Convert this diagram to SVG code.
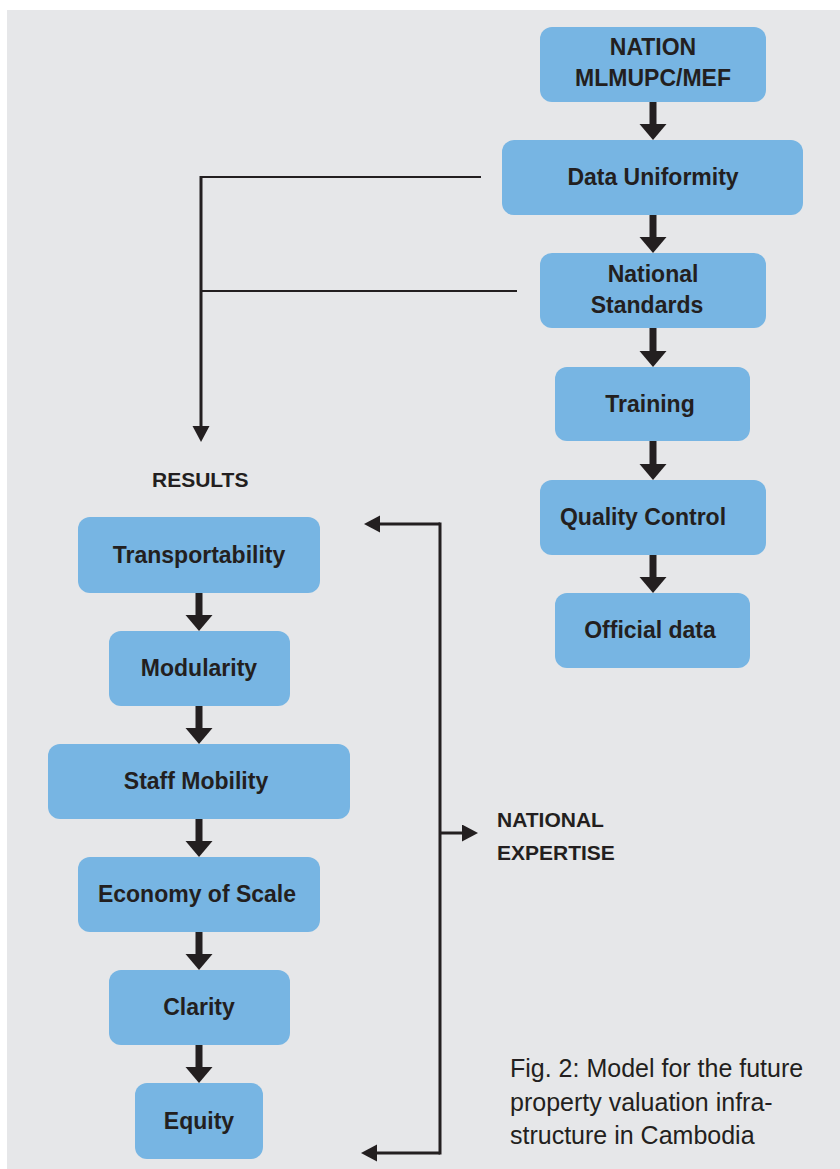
<svg xmlns="http://www.w3.org/2000/svg" width="840" height="1169" viewBox="0 0 840 1169">
<style>
.box{fill:#77b5e3;}
.lbl{font-family:"Liberation Sans",Arial,sans-serif;font-weight:bold;font-size:23px;fill:#231f20;text-anchor:middle;}
.hdr{font-family:"Liberation Sans",Arial,sans-serif;font-weight:bold;font-size:21px;fill:#231f20;}
.cap{font-family:"Liberation Sans",Arial,sans-serif;font-size:25px;fill:#231f20;}
.thick{stroke:#231f20;stroke-width:7;fill:none;marker-end:url(#bigHead);}
.thin{stroke:#231f20;stroke-width:3;fill:none;}
.hair{stroke:#231f20;stroke-width:2;fill:none;}
.thinArrow{stroke:#231f20;stroke-width:3;fill:none;marker-end:url(#smallHead);}
</style>
<defs>
<marker id="bigHead" markerUnits="userSpaceOnUse" markerWidth="18" markerHeight="28" refX="2" refY="13.5" orient="auto" viewBox="0 0 18 28">
<path d="M0,0 L16,13.5 L0,27 z" fill="#231f20"/>
</marker>
<marker id="smallHead" markerUnits="userSpaceOnUse" markerWidth="18" markerHeight="18" refX="2" refY="8.5" orient="auto" viewBox="0 0 18 18">
<path d="M0,0 L16,8.5 L0,17 z" fill="#231f20"/>
</marker>
</defs>
<rect x="7" y="10" width="833" height="1159" fill="#e6e7e9"/>

<g id="connectors">
<line class="thick" x1="653" y1="102" x2="653" y2="126"/>
<line class="thick" x1="653" y1="215" x2="653" y2="239"/>
<line class="thick" x1="653" y1="328" x2="653" y2="353"/>
<line class="thick" x1="653" y1="441" x2="653" y2="466"/>
<line class="thick" x1="653" y1="555" x2="653" y2="579"/>
<line class="thick" x1="199" y1="593" x2="199" y2="617"/>
<line class="thick" x1="199" y1="706" x2="199" y2="730"/>
<line class="thick" x1="199" y1="819" x2="199" y2="843"/>
<line class="thick" x1="199" y1="932" x2="199" y2="956"/>
<line class="thick" x1="199" y1="1045" x2="199" y2="1069"/>
<line class="hair" x1="200" y1="177" x2="481" y2="177"/>
<line class="hair" x1="200" y1="291" x2="517" y2="291"/>
<line class="thinArrow" x1="201" y1="176" x2="201" y2="428"/>
<line class="thin" x1="440" y1="524" x2="440" y2="1153" stroke-linecap="square"/>
<line class="thinArrow" x1="440" y1="524" x2="378" y2="524"/>
<line class="thinArrow" x1="440" y1="1153" x2="375" y2="1153"/>
<line class="thinArrow" x1="440" y1="833" x2="464" y2="833"/>
</g>

<g id="n-nation"><rect class="box" x="540" y="27" width="226" height="75" rx="12"/>
<text class="lbl" x="653" y="55">NATION</text><text class="lbl" x="653" y="86">MLMUPC/MEF</text></g>
<g id="n-data"><rect class="box" x="502" y="140" width="301" height="75" rx="12"/>
<text class="lbl" x="653" y="185">Data Uniformity</text></g>
<g id="n-standards"><rect class="box" x="540" y="253" width="226" height="75" rx="12"/>
<text class="lbl" x="653" y="282">National</text><text class="lbl" x="647" y="313">Standards</text></g>
<g id="n-training"><rect class="box" x="555" y="367" width="195" height="74" rx="12"/>
<text class="lbl" x="650" y="412">Training</text></g>
<g id="n-quality"><rect class="box" x="540" y="480" width="226" height="75" rx="12"/>
<text class="lbl" x="643" y="525">Quality Control</text></g>
<g id="n-official"><rect class="box" x="555" y="593" width="195" height="75" rx="12"/>
<text class="lbl" x="650" y="638">Official data</text></g>

<g id="t-results"><text class="hdr" x="152" y="487">RESULTS</text></g>

<g id="n-transport"><rect class="box" x="78" y="517" width="242" height="76" rx="12"/>
<text class="lbl" x="199" y="563">Transportability</text></g>
<g id="n-modularity"><rect class="box" x="109" y="631" width="181" height="75" rx="12"/>
<text class="lbl" x="199" y="676">Modularity</text></g>
<g id="n-staff"><rect class="box" x="48" y="744" width="302" height="75" rx="12"/>
<text class="lbl" x="196" y="789">Staff Mobility</text></g>
<g id="n-economy"><rect class="box" x="78" y="857" width="242" height="75" rx="12"/>
<text class="lbl" x="197" y="902">Economy of Scale</text></g>
<g id="n-clarity"><rect class="box" x="109" y="970" width="181" height="75" rx="12"/>
<text class="lbl" x="199" y="1015">Clarity</text></g>
<g id="n-equity"><rect class="box" x="135" y="1083" width="128" height="76" rx="12"/>
<text class="lbl" x="199" y="1129">Equity</text></g>

<g id="t-expertise"><text class="hdr" x="497" y="827">NATIONAL</text><text class="hdr" x="497" y="860">EXPERTISE</text></g>

<g id="caption">
<text class="cap" x="510" y="1077">Fig. 2: Model for the future</text>
<text class="cap" x="510" y="1111">property valuation infra-</text>
<text class="cap" x="510" y="1144">structure in Cambodia</text>
</g>
</svg>
